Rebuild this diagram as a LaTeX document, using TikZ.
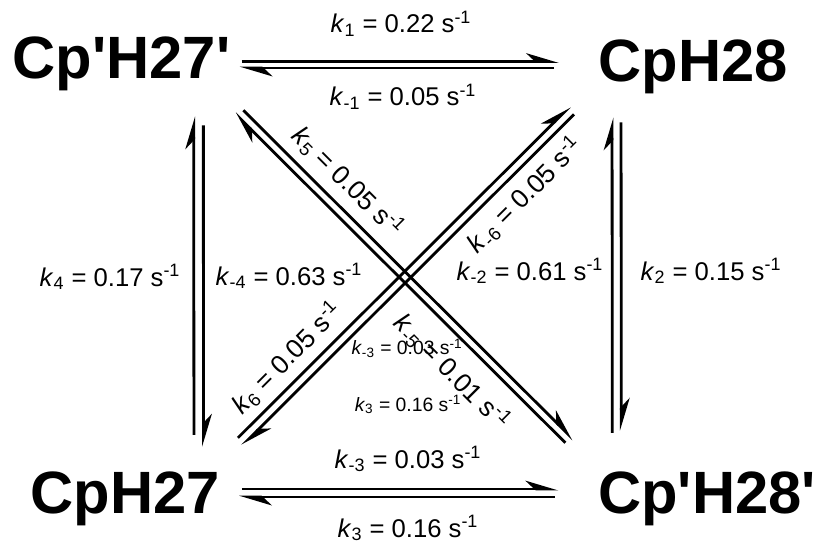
\documentclass[tikz,border=0pt]{standalone}
\usepackage{fontspec}
\setmainfont{Liberation Sans}[Ligatures=TeXOff]
\usepackage{tikz}
\usetikzlibrary{arrows.meta}

\newcommand{\kte}[2]{\textit{k}\textsubscript{#1} = #2 s\textsuperscript{-1}}

\begin{document}
\begin{tikzpicture}[x=0.02cm, y=-0.02cm,
    >={Stealth[harpoon,length=16pt,width=9.5pt,inset=5pt]},
    flecha/.style={->, line width=1.6pt},
    especie/.style={anchor=base, inner sep=0pt, text height=24.4pt, text depth=0pt,
        font=\fontsize{34}{40}\selectfont\bfseries},
    tasa/.style={anchor=base, inner sep=0pt, font=\fontsize{14.6}{17}\selectfont},
    tasachica/.style={anchor=base, inner sep=0pt, font=\fontsize{11}{13}\selectfont},
    tasadiag/.style={inner sep=0pt, font=\fontsize{15}{18}\selectfont}]
    \useasboundingbox (0,0) rectangle (819,544);

    \node[especie] (h27p) at (121.5,79) {Cp'H27'};
    \node[especie] (h28) at (693,82) {CpH28};
    \node[especie] (h27) at (125,513) {CpH27};
    \node[especie] (h28p) at (707,513) {Cp'H28'};

    % arriba y abajo
    \draw[flecha] ([shift={(11,4)}]h27p.east) -- ([shift={(-39,1)}]h28.west);
    \draw[flecha] ([shift={(-44,7.5)}]h28.west) -- ([shift={(9,10.5)}]h27p.east);
    \draw[flecha] ([shift={(22,-2.5)}]h27.east) -- ([shift={(-39.5,-2.5)}]h28p.west);
    \draw[flecha] ([shift={(-43,5.5)}]h28p.west) -- ([shift={(19,5.5)}]h27.east);

    % laterales
    \draw[flecha] ([shift={(-26,-35)}]h27.north east) -- ([shift={(-37,37)}]h27p.south east);
    \draw[flecha] ([shift={(-27.3,46)}]h27p.south east) -- ([shift={(-16.5,-23)}]h27.north east);
    \draw[flecha] ([shift={(14.5,-37)}]h28p.north west) -- ([shift={(14,35)}]h28.south west);
    \draw[flecha] ([shift={(23,40)}]h28.south west) -- ([shift={(23.5,-39)}]h28p.north west);

    % diagonales
    \draw[flecha] ([shift={(-32.5,-27)}]h28p.north west) -- ([shift={(4.2,34)}]h27p.south east);
    \draw[flecha] ([shift={(12.7,31)}]h27p.south east) -- ([shift={(-24.5,-30.3)}]h28p.north west);
    \draw[flecha] ([shift={(18,-32)}]h27.north east) -- ([shift={(-28,24)}]h28.south west);
    \draw[flecha] ([shift={(-24,32)}]h28.south west) -- ([shift={(22,-24)}]h27.north east);

    \node[tasa] (k1) at (401,33) {\kte{1}{0.22}};
    \node[tasa] (km1) at (403,106) {\kte{-1}{0.05}};
    \node[tasa] (km3) at (408,468) {\kte{-3}{0.03}};
    \node[tasa] (k3) at (408,537) {\kte{3}{0.16}};
    \node[tasa] (k4) at (110,286) {\kte{4}{0.17}};
    \node[tasa] (km4) at (289,285) {\kte{-4}{0.63}};
    \node[tasa] (km2) at (530,280) {\kte{-2}{0.61}};
    \node[tasa] (k2) at (711,280) {\kte{2}{0.15}};

    \node[tasachica] (km3b) at (407,355) {\kte{-3}{0.03}};
    \node[tasachica] (k3b) at (408,411) {\kte{3}{0.16}};

    \node[tasadiag, rotate=-45] (k5) at (348,182) {\kte{5}{0.05}};
    \node[tasadiag, rotate=45] (km6) at (525,195) {\kte{-6}{0.05}};
    \node[tasadiag, rotate=45] (k6) at (287,358) {\kte{6}{0.05}};
    \node[tasadiag, rotate=-45] (km5) at (452,372) {\kte{-5}{0.01}};
\end{tikzpicture}
\end{document}
